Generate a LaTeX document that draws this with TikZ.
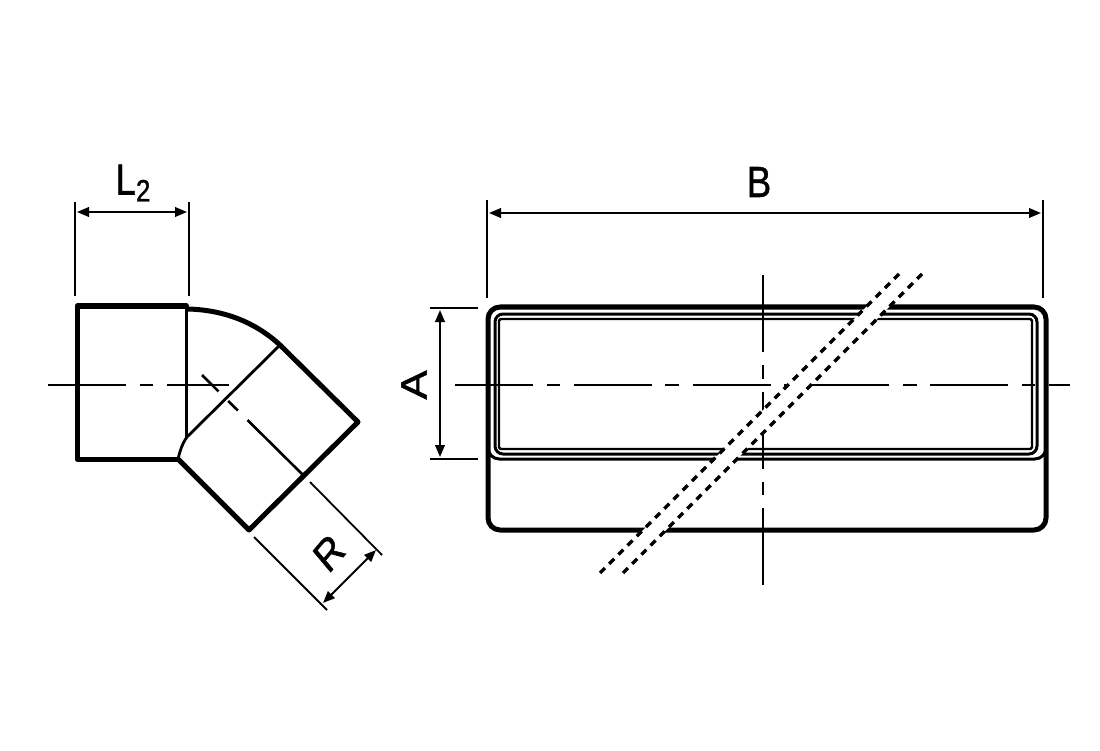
\documentclass[tikz,border=0pt]{standalone}
\usepackage{fontspec}
\setmainfont[RawFeature={embolden=1.2}]{Liberation Sans}
\usetikzlibrary{arrows.meta}

\begin{document}
\begin{tikzpicture}[x=0.25mm,y=-0.25mm,
  >={Triangle[length=3mm,width=2.4mm]},
  thickline/.style={line width=1.25mm,line join=round,line cap=round},
  thinline/.style={line width=0.7mm},
  dimline/.style={line width=0.5mm},
  extline/.style={line width=0.45mm},
  centerline/.style={line width=0.65mm,dash pattern=on 19.5mm off 3.4mm on 3.4mm off 3.4mm},
  centerlinev/.style={line width=0.65mm,dash pattern=on 19.25mm off 3.25mm on 3.4mm off 3.25mm},
  breakline/.style={line width=0.8mm,dash pattern=on 1.75mm off 1.5mm},
  every node/.style={font=\fontsize{31}{31}\selectfont,inner sep=0pt,outer sep=0pt,xscale=0.84}]
\useasboundingbox (0,0) rectangle (1100,751);

\draw[centerline] (48,385) -- (229,385);
\draw[centerline] (303,475) -- (202,375);

\draw[thickline] (186.5,306) -- (77,306) -- (77,459) -- (178,459);
\draw[thinline] (186.5,306) -- (186.5,437);
\draw[thickline] (188,309) .. controls (224,310) and (255,322) .. (280,345);
\draw[thickline] (280,345) -- (358,422) -- (249,530) -- (178,459);
\draw[thinline] (280,345) -- (187,437) .. controls (182,444) and (180,451) .. (178,459);

\draw[extline] (75,202) -- (75,296);
\draw[extline] (189,202) -- (189,296);
\draw[dimline,<->] (77,212) -- (187,212);
\node (labelL) at (133,183) {L\raisebox{-1.75mm}{\fontsize{22}{22}\selectfont 2}};

\draw[extline] (310,482) -- (382,555);
\draw[extline] (254,537) -- (327,610);
\draw[dimline,<->] (376,550) -- (323,603);
\node[rotate=45] (labelR) at (329,553) {R};

\draw[thickline,rounded corners=3mm] (488,307) rectangle (1046,530);
\draw[line width=0.75mm,rounded corners=2.8mm] (488,448) |- (1046,459) -- (1046,448);
\draw[line width=0.75mm,rounded corners=2mm] (495,314) rectangle (1037,454);
\draw[line width=0.6mm,rounded corners=0.4mm] (499,319) rectangle (1032,449);

\draw[centerline] (455,385) -- (1070,385);
\draw[centerlinev] (763,275) -- (763,587);

\fill[white] (600,573) -- (903,270) -- (926,270) -- (623,573) -- cycle;
\draw[breakline] (600,573) -- (903,270);
\draw[breakline] (623,573) -- (926,270);

\draw[extline] (487,200) -- (487,298);
\draw[extline] (1043,200) -- (1043,298);
\draw[dimline,<->] (489,213) -- (1041,213);
\node (labelB) at (759,182) {B};

\draw[extline] (430,308) -- (478,308);
\draw[extline] (430,459) -- (478,459);
\draw[dimline,<->] (440,310) -- (440,457);
\node[rotate=90] (labelA) at (414,385) {A};
\end{tikzpicture}
\end{document}
